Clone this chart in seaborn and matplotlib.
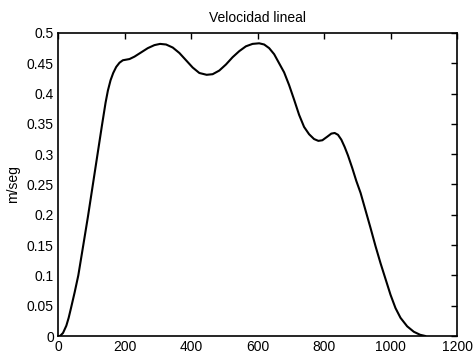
import numpy as np
import pandas as pd
import matplotlib
matplotlib.use("Agg")
import matplotlib.pyplot as plt
import seaborn as sns

# values
x_vals = [0, 6, 15, 25, 32, 39, 50, 61, 76, 90, 104, 118, 132, 143, 150, 158,
          166, 175, 185, 195, 205, 215, 230, 250, 270, 290, 307, 325, 345, 365,
          385, 405, 425, 447, 465, 485, 505, 525, 545, 565, 585, 605, 620, 635,
          650, 665, 680, 695, 710, 725, 740, 755, 770, 783, 795, 810, 822, 832,
          842, 852, 862, 872, 885, 897, 910, 925, 940, 955, 970, 985, 1000,
          1015, 1030, 1050, 1070, 1089, 1105]
v_vals = [0, 0, 0.005, 0.017, 0.03, 0.046, 0.072, 0.1, 0.15, 0.197, 0.247,
          0.297, 0.347, 0.385, 0.405, 0.422, 0.434, 0.444, 0.451, 0.455, 0.456,
          0.457, 0.461, 0.468, 0.475, 0.480, 0.482, 0.481, 0.476, 0.467, 0.455,
          0.443, 0.434, 0.431, 0.432, 0.438, 0.448, 0.460, 0.470, 0.478, 0.482,
          0.483, 0.481, 0.475, 0.465, 0.450, 0.435, 0.414, 0.39, 0.365, 0.345,
          0.333, 0.325, 0.322, 0.323, 0.329, 0.334, 0.335, 0.332, 0.324, 0.312,
          0.298, 0.277, 0.256, 0.236, 0.207, 0.178, 0.148, 0.12, 0.094, 0.068,
          0.046, 0.030, 0.016, 0.007, 0.002, 0]
x_ticks = [0, 200, 400, 600, 800, 1000, 1200]
y_ticks = [0, 0.05, 0.1, 0.15, 0.2, 0.25, 0.3, 0.35, 0.4, 0.45, 0.5]
y_labels = ["0", "0.05", "0.1", "0.15", "0.2", "0.25", "0.3", "0.35", "0.4", "0.45", "0.5"]

df = pd.DataFrame({"t": x_vals, "v": v_vals})

sns.set_style("white")
plt.rcParams['font.family'] = ['Liberation Sans', 'DejaVu Sans']

fig = plt.figure(figsize=(4.74, 3.57), dpi=100)
ax = fig.add_axes([0.1224, 0.0588, 0.8418, 0.8488])

sns.lineplot(data=df, x="t", y="v", color="black", linewidth=1.5, ax=ax)

ax.set_xlim(0, 1200)
ax.set_ylim(0, 0.5)
ax.set_xticks(x_ticks)
ax.set_yticks(y_ticks)
ax.set_yticklabels(y_labels)
ax.tick_params(direction="in", top=True, right=True, length=4, width=1,
               labelsize=10, pad=3, colors="black")
for s in ax.spines.values():
    s.set_color("black")
    s.set_linewidth(1.2)

ax.set_xlabel("")
ax.set_ylabel("m/seg", fontsize=10, labelpad=5, color="black")
ax.set_title("Velocidad lineal", fontsize=10, pad=8, color="black")

fig.savefig("out.png", dpi=100)
